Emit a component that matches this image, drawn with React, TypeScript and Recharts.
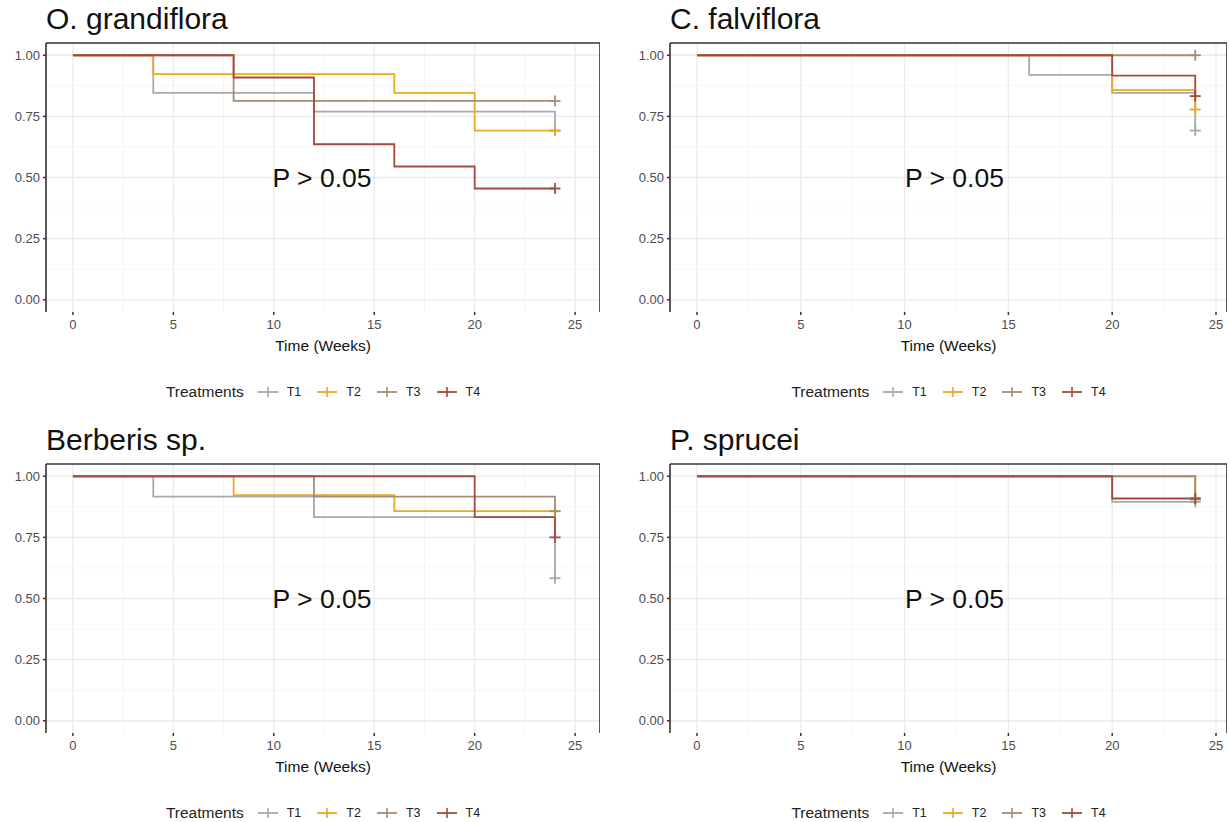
import { LineChart, Line, XAxis, YAxis, CartesianGrid, ReferenceLine, ReferenceDot } from 'recharts'

const treatments = ['T1', 'T2', 'T3', 'T4']
const treatmentColors = ['#a9a9a9', '#eaa927', '#a38f72', '#a44a3d']

const xTicks = [0, 5, 10, 15, 20, 25]
const xMinor = [2.5, 7.5, 12.5, 17.5, 22.5]
const yTicks = [0, 0.25, 0.5, 0.75, 1]
const yMinor = [0.125, 0.375, 0.625, 0.875]

// [week, survival probability]
const grandifloraT1 = [[0, 1], [4, 0.846], [12, 0.769], [24, 0.692]]
const grandifloraT2 = [[0, 1], [4, 0.923], [16, 0.846], [20, 0.692], [24, 0.692]]
const grandifloraT3 = [[0, 1], [8, 0.813], [24, 0.813]]
const grandifloraT4 = [[0, 1], [8, 0.909], [12, 0.636], [16, 0.545], [20, 0.455], [24, 0.455]]

const falvifloraT1 = [[0, 1], [16, 0.92], [20, 0.846], [24, 0.692]]
const falvifloraT2 = [[0, 1], [20, 0.857], [24, 0.778]]
const falvifloraT3 = [[0, 1], [24, 1]]
const falvifloraT4 = [[0, 1], [20, 0.917], [24, 0.833]]

const berberisT1 = [[0, 1], [4, 0.917], [12, 0.833], [24, 0.583]]
const berberisT2 = [[0, 1], [8, 0.923], [16, 0.857], [24, 0.857]]
const berberisT3 = [[0, 1], [12, 0.917], [24, 0.857]]
const berberisT4 = [[0, 1], [20, 0.833], [24, 0.75]]

const spruceiT1 = [[0, 1], [20, 0.895], [24, 0.895]]
const spruceiT2 = [[0, 1], [24, 0.91]]
const spruceiT3 = [[0, 1], [24, 0.905]]
const spruceiT4 = [[0, 1], [20, 0.909], [24, 0.909]]

const FONT = '"Liberation Sans", Arial, sans-serif'
const DARK = '#333333'

const censorDot = (color: string, lastIndex: number) => (p: any) => {
  if (p.index !== lastIndex) return <g key={`d-${p.index}`} />
  return (
    <g key={`d-${p.index}`}>
      <line x1={p.cx - 5.5} x2={p.cx + 5.5} y1={p.cy} y2={p.cy} stroke={color} strokeWidth={1.8} />
      <line x1={p.cx} x2={p.cx} y1={p.cy - 5.5} y2={p.cy + 5.5} stroke={color} strokeWidth={1.8} />
    </g>
  )
}

interface PanelProps {
  title: string
  curves: number[][][]
  left: number
  top: number
  width: number
  xMin: number
  xMax: number
}

function SurvPanel({ title, curves, left, top, width, xMin, xMax }: PanelProps) {
  const yAxisW = 46
  const plotLeft = left + yAxisW
  const plotW = width - yAxisW
  return (
    <>
      <div style={{ position: 'absolute', left: plotLeft, top: top + 4, fontSize: 30, lineHeight: '30px', color: '#111', fontFamily: FONT }}>
        {title}
      </div>
      <div style={{ position: 'absolute', left, top }}>
        <LineChart width={width} height={342} margin={{ top: 43, right: 0, bottom: 0, left: 0 }}>
          <CartesianGrid horizontalValues={yMinor} verticalValues={xMinor} stroke="#f2f2f2" strokeWidth={0.8} />
          <CartesianGrid horizontalValues={yTicks} verticalValues={xTicks} stroke="#ebebeb" strokeWidth={1.3} />
          <XAxis
            type="number"
            dataKey="t"
            domain={[xMin, xMax]}
            allowDataOverflow
            ticks={xTicks}
            height={30}
            axisLine={false}
            tickLine={{ stroke: DARK, strokeWidth: 1.5 }}
            tickSize={3}
            tickMargin={5}
            tick={{ fontSize: 13, fill: '#4d4d4d', fontFamily: FONT }}
          />
          <YAxis
            type="number"
            domain={[-0.05, 1.05]}
            allowDataOverflow
            ticks={yTicks}
            width={yAxisW}
            tickFormatter={(v: number) => v.toFixed(2)}
            axisLine={{ stroke: DARK, strokeWidth: 1.6 }}
            tickLine={{ stroke: DARK, strokeWidth: 1.5 }}
            tickSize={3}
            tickMargin={3}
            tick={{ fontSize: 13, fill: '#4d4d4d', fontFamily: FONT }}
          />
          <ReferenceLine y={1.05} stroke={DARK} strokeWidth={1.6} />
          <ReferenceLine x={xMax} stroke={DARK} strokeWidth={1.6} />
          {curves.map((c, i) => (
            <Line
              key={treatments[i]}
              data={c.map(([t, s]) => ({ t, s }))}
              dataKey="s"
              type="stepAfter"
              stroke={treatmentColors[i]}
              strokeWidth={1.8}
              dot={censorDot(treatmentColors[i], c.length - 1)}
              activeDot={false}
              isAnimationActive={false}
            />
          ))}
          <ReferenceDot
            x={12.4}
            y={0.5}
            r={0}
            fill="none"
            stroke="none"
            label={{ value: 'P > 0.05', position: 'center', fontSize: 26.5, fill: '#111', fontFamily: FONT }}
          />
        </LineChart>
      </div>
      <div style={{ position: 'absolute', left: plotLeft, top: top + 337, width: plotW, textAlign: 'center', fontSize: 15.5, color: '#111', fontFamily: FONT }}>
        Time (Weeks)
      </div>
      <div
        style={{
          position: 'absolute', left: plotLeft, top: top + 383, width: plotW, height: 18,
          display: 'flex', justifyContent: 'center', alignItems: 'center', fontFamily: FONT, color: '#222',
        }}
      >
        <span style={{ fontSize: 15.5, marginRight: 13 }}>Treatments</span>
        {treatments.map((t, i) => (
          <span key={t} style={{ display: 'flex', alignItems: 'center', marginRight: i < 3 ? 15 : 0 }}>
            <svg width={22} height={14}>
              <line x1={1} x2={21} y1={7} y2={7} stroke={treatmentColors[i]} strokeWidth={1.8} />
              <line x1={11} x2={11} y1={2} y2={12} stroke={treatmentColors[i]} strokeWidth={1.6} />
            </svg>
            <span style={{ fontSize: 12.5, marginLeft: 8 }}>{t}</span>
          </span>
        ))}
      </div>
    </>
  )
}

export default function App() {
  return (
    <div style={{ position: 'absolute', left: 0, top: 0, width: 1230, height: 822, background: '#fff', overflow: 'hidden' }}>
      <SurvPanel
        title="O. grandiflora"
        curves={[grandifloraT1, grandifloraT2, grandifloraT3, grandifloraT4]}
        left={0} top={0} width={600} xMin={-1.34} xMax={26.24}
      />
      <SurvPanel
        title="C. falviflora"
        curves={[falvifloraT1, falvifloraT2, falvifloraT3, falvifloraT4]}
        left={624} top={0} width={603} xMin={-1.3} xMax={25.53}
      />
      <SurvPanel
        title="Berberis sp."
        curves={[berberisT1, berberisT2, berberisT3, berberisT4]}
        left={0} top={421} width={600} xMin={-1.34} xMax={26.24}
      />
      <SurvPanel
        title="P. sprucei"
        curves={[spruceiT1, spruceiT2, spruceiT3, spruceiT4]}
        left={624} top={421} width={603} xMin={-1.3} xMax={25.53}
      />
    </div>
  )
}
